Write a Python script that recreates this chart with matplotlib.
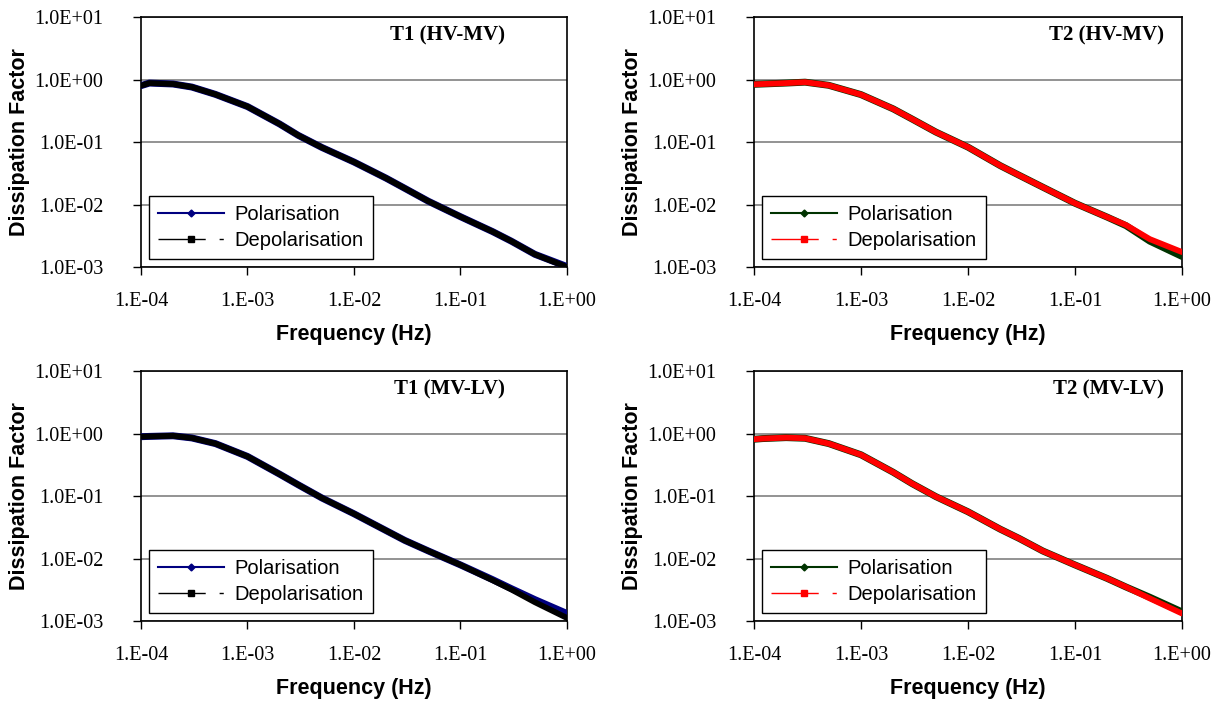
# -*- coding: utf-8 -*-

import numpy as np
import matplotlib
matplotlib.use("Agg")
import matplotlib.pyplot as plt
from matplotlib.lines import Line2D
from matplotlib.ticker import FuncFormatter, LogLocator, NullLocator

# frequencies (Hz) where the curves were read
freq = [1e-4, 1.2e-4, 2e-4, 3e-4, 5e-4, 1e-3, 2e-3, 3e-3, 5e-3, 1e-2,
        2e-2, 3e-2, 5e-2, 1e-1, 2e-1, 3e-1, 5e-1, 1.0]

# T1 (HV-MV)
t1_hv_pol = [0.80, 0.88, 0.85, 0.76, 0.58, 0.37, 0.195, 0.128, 0.082, 0.048,
             0.0265, 0.0182, 0.0113, 0.0064, 0.0037, 0.0026, 0.0016, 0.00102]
t1_hv_depol = [0.80, 0.88, 0.85, 0.76, 0.58, 0.37, 0.195, 0.128, 0.082, 0.048,
               0.0265, 0.0182, 0.0113, 0.0064, 0.0037, 0.0026, 0.0016, 0.00100]

# T2 (HV-MV)
t2_hv_pol = [0.84, 0.85, 0.88, 0.91, 0.81, 0.575, 0.34, 0.234, 0.145, 0.083,
             0.042, 0.0295, 0.019, 0.0105, 0.0063, 0.0046, 0.0026, 0.00148]
t2_hv_depol = [0.84, 0.85, 0.88, 0.91, 0.81, 0.575, 0.34, 0.234, 0.145, 0.083,
               0.042, 0.0295, 0.019, 0.0105, 0.0063, 0.0047, 0.0028, 0.00174]

# T1 (MV-LV)
t1_mv_pol = [0.89, 0.90, 0.92, 0.85, 0.69, 0.43, 0.224, 0.151, 0.093, 0.052,
             0.028, 0.0195, 0.0132, 0.0079, 0.0046, 0.0033, 0.0022, 0.00132]
t1_mv_depol = [0.89, 0.90, 0.92, 0.85, 0.69, 0.43, 0.224, 0.151, 0.093, 0.052,
               0.028, 0.0195, 0.0132, 0.0079, 0.0045, 0.0032, 0.0020, 0.00112]

# T2 (MV-LV)
t2_mv_pol = [0.81, 0.83, 0.86, 0.84, 0.69, 0.457, 0.24, 0.158, 0.098, 0.056,
             0.0295, 0.021, 0.0132, 0.0079, 0.0048, 0.0035, 0.0024, 0.00140]
t2_mv_depol = [0.81, 0.83, 0.86, 0.84, 0.69, 0.457, 0.24, 0.158, 0.098, 0.056,
               0.0295, 0.021, 0.0132, 0.0079, 0.0048, 0.0035, 0.0023, 0.00132]

titles = ["T1 (HV-MV)", "T2 (HV-MV)", "T1 (MV-LV)", "T2 (MV-LV)"]
series = [(t1_hv_pol, t1_hv_depol), (t2_hv_pol, t2_hv_depol),
          (t1_mv_pol, t1_mv_depol), (t2_mv_pol, t2_mv_depol)]

SERIF = "Liberation Serif"
SANS = "Liberation Sans"

fig = plt.figure(figsize=(12.24, 7.01), dpi=100)

# axes rectangles in figure fraction (left, bottom, width, height)
rects = [[0.1152, 0.619, 0.348, 0.3566],
         [0.616, 0.619, 0.3497, 0.3566],
         [0.1152, 0.1141, 0.348, 0.3566],
         [0.616, 0.1141, 0.3497, 0.3566]]
title_x = [0.855, 0.957, 0.855, 0.957]
colors = [("#000080", "black"), ("#003300", "#ff0000"),
          ("#000080", "black"), ("#003300", "#ff0000")]

for i in range(4):
    ax = fig.add_axes(rects[i])
    pol, depol = series[i]
    cp, cd = colors[i]
    ax.plot(freq, pol, color=cp, lw=5, solid_capstyle="round",
            solid_joinstyle="round", zorder=3)
    ax.plot(freq, depol, color=cd, lw=4.2, solid_capstyle="round",
            solid_joinstyle="round", zorder=4)

    ax.set_xscale("log")
    ax.set_yscale("log")
    ax.set_xlim(1e-4, 1)
    ax.set_ylim(1e-3, 10)
    ax.xaxis.set_major_locator(LogLocator(base=10, numticks=10))
    ax.yaxis.set_major_locator(LogLocator(base=10, numticks=10))
    ax.xaxis.set_minor_locator(NullLocator())
    ax.yaxis.set_minor_locator(NullLocator())
    ax.xaxis.set_major_formatter(FuncFormatter(lambda v, p: "%#.0E" % v))
    ax.yaxis.set_major_formatter(FuncFormatter(lambda v, p: "%.1E" % v))
    ax.tick_params(direction="out", length=6, width=1, color="black",
                   labelsize=14.5)
    ax.tick_params(axis="x", pad=12)
    ax.tick_params(axis="y", pad=21)
    for lab in ax.get_xticklabels() + ax.get_yticklabels():
        lab.set_family(SERIF)
    ax.yaxis.grid(True, color="#808080", lw=1.2)
    ax.set_axisbelow(True)
    for sp in ax.spines.values():
        sp.set_color("black")
        sp.set_linewidth(1.2)

    ax.set_xlabel("Frequency (Hz)", family=SANS, fontweight="bold", fontsize=15.5)
    ax.set_ylabel("Dissipation Factor", family=SANS, fontweight="bold", fontsize=15.5)
    ax.xaxis.set_label_coords(0.5, -0.228)
    ax.yaxis.set_label_coords(-0.26, 0.5)

    ax.text(title_x[i], 0.928, titles[i], transform=ax.transAxes, ha="right",
            va="center", family=SERIF, fontweight="bold", fontsize=15)

    # legend handles drawn thin like the original
    h1 = Line2D([], [], color=cp, lw=1.5, marker="D", markersize=3.5)
    h2 = Line2D([], [], color=cd, lw=1, linestyle=(0, (34, 10, 3, 10)),
                marker="s", markersize=5)
    leg = ax.legend([h1, h2], ["Polarisation", "Depolarisation"],
                    loc="lower left", bbox_to_anchor=(0.019, 0.032),
                    borderaxespad=0, fancybox=False, framealpha=1,
                    edgecolor="black", handlelength=3.25, handletextpad=0.55,
                    labelspacing=0.35, borderpad=0.45,
                    prop={"family": SANS, "size": 14.5})
    leg.get_frame().set_linewidth(1)
    leg.set_zorder(5)

plt.savefig("out.png", dpi=100)
